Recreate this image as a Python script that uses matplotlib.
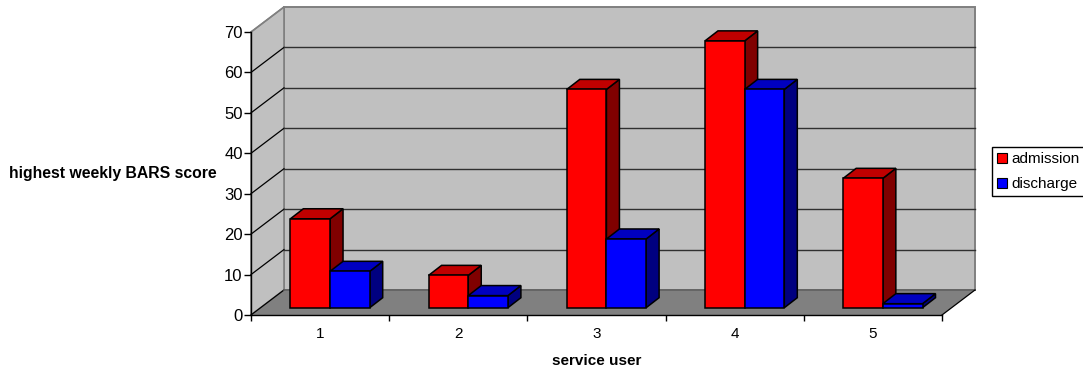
import matplotlib
matplotlib.use('Agg')
import matplotlib.pyplot as plt
from matplotlib.patches import Patch, Polygon

plt.rcParams['font.family'] = ['Liberation Sans', 'DejaVu Sans']

users = ['1', '2', '3', '4', '5']
admission = [22, 8, 54, 66, 32]
discharge = [9, 3, 17, 54, 1]
y_ticks = [0, 10, 20, 30, 40, 50, 60, 70]

W, H = 1083, 370

# oblique projection, in axis units
WALL_DX, WALL_DY = 0.2388, 6.19
BAR_DX, BAR_DY = 0.094, 2.48
BASE_DX, BASE_DY = 0.072, 1.8
BAR_W = 0.287

RED = ('#ff0000', '#c00000', '#800000')
BLUE = ('#0000ff', '#0000c0', '#000080')
N = len(users)


def face(ax, pts, color, edge='black', lw=1.1, z=2):
    ax.add_patch(Polygon(pts, closed=True, facecolor=color, edgecolor=edge,
                         linewidth=lw, zorder=z, clip_on=False, joinstyle='miter'))


def bar3d(ax, x0, value, colors, z):
    # front, top and side face of one box
    x = x0 + BASE_DX
    y0 = BASE_DY
    y1 = value + BASE_DY
    x1 = x + BAR_W
    face(ax, [(x1, y0), (x1 + BAR_DX, y0 + BAR_DY), (x1 + BAR_DX, y1 + BAR_DY), (x1, y1)], colors[2], z=z)
    face(ax, [(x, y1), (x1, y1), (x1 + BAR_DX, y1 + BAR_DY), (x + BAR_DX, y1 + BAR_DY)], colors[1], z=z)
    face(ax, [(x, y0), (x1, y0), (x1, y1), (x, y1)], colors[0], z=z)


fig = plt.figure(figsize=(W / 100, H / 100), dpi=100)
ax = fig.add_axes([251 / W, (H - 315) / H, 691 / W, 283 / H])
ax.set_xlim(0, N)
ax.set_ylim(0, 70)
ax.patch.set_visible(False)

# walls and floor
top = 70 + WALL_DY
face(ax, [(WALL_DX, WALL_DY), (N + WALL_DX, WALL_DY), (N + WALL_DX, top), (WALL_DX, top)],
     '#c0c0c0', edge='#808080', lw=1.4, z=0)
face(ax, [(0, 0), (WALL_DX, WALL_DY), (WALL_DX, top), (0, 70)], '#c0c0c0', edge='#808080', lw=1.2, z=0)
face(ax, [(0, 0), (N, 0), (N + WALL_DX, WALL_DY), (WALL_DX, WALL_DY)], '#808080', edge='none', lw=0, z=0.5)

# gridlines run along the side wall and across the back wall
for v in y_ticks[1:-1]:
    ax.plot([0, WALL_DX], [v, v + WALL_DY], color='black', lw=0.9, zorder=1, clip_on=False)
    ax.plot([WALL_DX, N + WALL_DX], [v + WALL_DY, v + WALL_DY], color='#303030', lw=1.0, zorder=1, clip_on=False)
ax.plot([0, WALL_DX], [0, WALL_DY], color='black', lw=0.9, zorder=1, clip_on=False)
ax.plot([0, WALL_DX], [70, top], color='#808080', lw=1.0, zorder=1, clip_on=False)
ax.plot([WALL_DX, N + WALL_DX], [WALL_DY, WALL_DY], color='#606060', lw=1.2, zorder=1, clip_on=False)
ax.plot([N, N + WALL_DX], [0, WALL_DY], color='black', lw=0.9, zorder=1, clip_on=False)

for i in range(N):
    start = i + 0.5 - BAR_W
    bar3d(ax, start, admission[i], RED, 2 + i)
    bar3d(ax, start + BAR_W, discharge[i], BLUE, 2.5 + i)

for s in ['top', 'right']:
    ax.spines[s].set_visible(False)
for s in ['left', 'bottom']:
    ax.spines[s].set_linewidth(1.0)
    ax.spines[s].set_zorder(20)

ax.set_yticks(y_ticks)
ax.set_xticks([i + 0.5 for i in range(N)])
ax.set_xticklabels(users)
ax.set_xticks(range(N + 1), minor=True)
ax.tick_params(axis='x', which='major', length=0, pad=9, labelsize=11, colors='black')
ax.tick_params(axis='x', which='minor', length=4, width=1.0)
ax.tick_params(axis='y', length=5, width=1.0, pad=1, labelsize=12)

ax.set_xlabel('service user', fontweight='bold', fontsize=11, labelpad=9)
ax.set_ylabel('highest weekly BARS score', fontweight='bold', fontsize=11.3,
              rotation=0, ha='right', va='center', labelpad=5)

handles = [Patch(facecolor=RED[0], edgecolor='black', linewidth=0.8, label='admission'),
           Patch(facecolor=BLUE[0], edgecolor='black', linewidth=0.8, label='discharge')]
fig.legend(handles=handles, loc='upper left', bbox_to_anchor=(992 / W, (H - 147) / H),
           borderaxespad=0, fontsize=11, fancybox=False, framealpha=1, edgecolor='black',
           handlelength=0.65, handleheight=0.65, handletextpad=0.3, labelspacing=0.7,
           borderpad=0.35)

fig.savefig('out.png', dpi=100)
